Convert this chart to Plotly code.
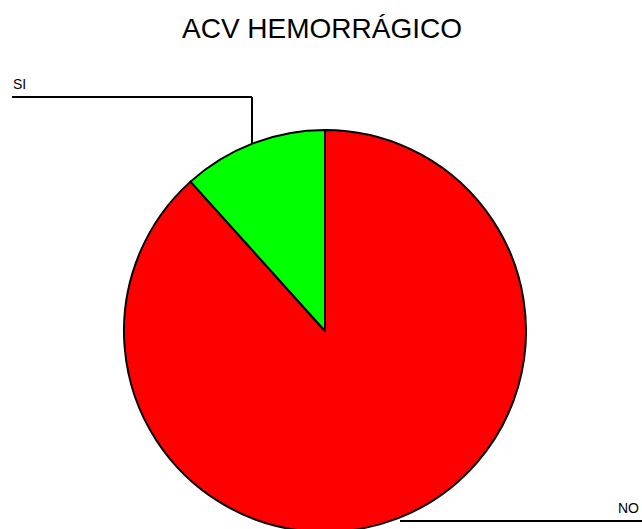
import plotly.graph_objects as go

labels = ["NO", "SI"]
values = [53, 7]
colors = ["#FF0000", "#00FF00"]
title = "ACV HEMORRÁGICO"

W, H = 642, 540  # slightly taller than the window: the pie is cut at the bottom
def px(x):
    return x / W
def py(y):
    return 1 - y / H

fig = go.Figure(go.Pie(
    labels=labels, values=values, sort=False, direction="clockwise",
    rotation=0, textinfo="none", hoverinfo="label+value+percent",
    marker=dict(colors=colors, line=dict(color="black", width=2)),
    domain=dict(x=[px(124), px(526)], y=[py(532), py(130)]),
    showlegend=False,
))

line = dict(color="black", width=2)
fig.update_layout(
    width=W, height=H, margin=dict(l=0, r=0, t=0, b=0),
    paper_bgcolor="white", plot_bgcolor="white",
    font=dict(family="Liberation Sans, Arial, sans-serif", color="black"),
    title=dict(text=title, x=px(322), xanchor="center", y=py(28), yanchor="middle",
               font=dict(size=28, color="black")),
    shapes=[
        dict(type="line", xref="paper", yref="paper", x0=px(12), y0=py(97), x1=px(252), y1=py(97), line=line),
        dict(type="line", xref="paper", yref="paper", x0=px(252), y0=py(97), x1=px(252), y1=py(143), line=line),
        dict(type="line", xref="paper", yref="paper", x0=px(400), y0=py(521), x1=px(642), y1=py(521), line=line),
    ],
    annotations=[
        dict(text=labels[1], xref="paper", yref="paper", x=px(11), y=py(84), xanchor="left",
             yanchor="middle", showarrow=False, font=dict(size=14)),
        dict(text=labels[0], xref="paper", yref="paper", x=px(641), y=py(508), xanchor="right",
             yanchor="middle", showarrow=False, font=dict(size=14)),
    ],
)
fig.write_html("out.html", config={"displayModeBar": False},
               post_script="document.body.style.margin='0';document.body.style.overflow='hidden';document.documentElement.style.overflow='hidden';")
